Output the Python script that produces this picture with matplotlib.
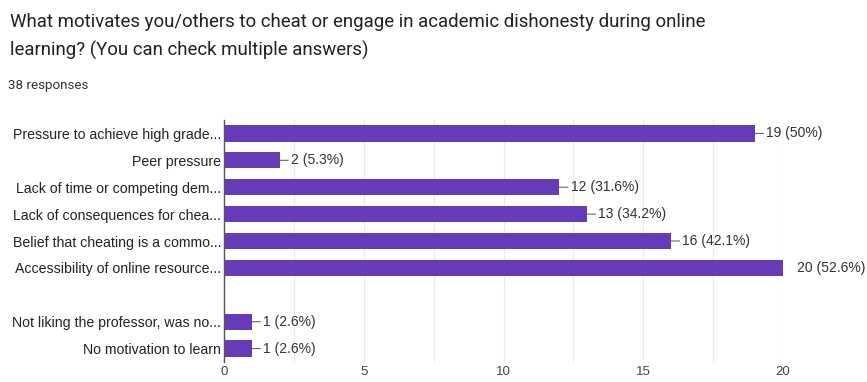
import numpy as np
import matplotlib.pyplot as plt
from matplotlib.ticker import MultipleLocator

# ── Data ───────────────────────────────────────────────────────────────────
labels = [
    "Pressure to achieve high grade...",
    "Peer pressure",
    "Lack of time or competing dem...",
    "Lack of consequences for chea...",
    "Belief that cheating is a commo...",
    "Accessibility of online resource...",
    "",
    "Not liking the professor, was no...",
    "No motivation to learn",
]
counts = [19, 2, 12, 13, 16, 20, 0, 1, 1]
value_labels = ["19 (50%)", "2 (5.3%)", "12 (31.6%)", "13 (34.2%)", "16 (42.1%)",
                "20 (52.6%)", "", "1 (2.6%)", "1 (2.6%)"]
x_ticks = [0, 5, 10, 15, 20]

BAR_COLOR = "#673ab7"
TEXT_COLOR = "#333333"
LABEL_FONT = "Liberation Sans"

fig = plt.figure(figsize=(8.67, 3.82), dpi=100)
fig.patch.set_facecolor("white")

# title + subtitle
fig.text(10 / 867, 1 - 22 / 382,
         "What motivates you/others to cheat or engage in academic dishonesty during online",
         fontsize=13.4, family="Roboto", color="#202124", va="center", ha="left")
fig.text(10 / 867, 1 - 50 / 382,
         "learning? (You can check multiple answers)",
         fontsize=13.4, family="Roboto", color="#202124", va="center", ha="left")
fig.text(8 / 867, 1 - 85 / 382, "38 responses",
         fontsize=9.6, family="Roboto", color="#333333", va="center", ha="left")

ax = fig.add_axes([224 / 867, 1 - 362 / 382, (783 - 224) / 867, (362 - 120) / 382])
y = np.arange(len(labels))
ax.barh(y, counts, height=0.6, color=BAR_COLOR, zorder=3)
ax.set_ylim(len(labels) - 0.5, -0.5)
ax.set_xlim(0, 20)

ax.set_yticks(y)
ax.set_yticklabels(labels, family=LABEL_FONT, fontsize=10.2, color="#222222")
ax.set_xticks(x_ticks)
ax.set_xticklabels([str(t) for t in x_ticks], family=LABEL_FONT,
                   fontsize=9.5, color="#444444")
ax.xaxis.set_minor_locator(MultipleLocator(2.5))
ax.tick_params(axis="both", which="both", length=0)
ax.tick_params(axis="y", pad=2)
ax.tick_params(axis="x", pad=3)

ax.grid(axis="x", which="both", color="#ebebeb", linewidth=0.8, zorder=0)
for side in ["top", "bottom", "right"]:
    ax.spines[side].set_visible(False)
ax.spines["left"].set_color("#555555")
ax.spines["left"].set_linewidth(1.0)
ax.spines["left"].set_zorder(4)

# value labels with short leader lines
for yi, c, lab in zip(y, counts, value_labels):
    if not lab:
        continue
    if c >= 20:
        ax.annotate(lab, xy=(c, yi), xytext=(10, 0), textcoords="offset points",
                    va="center", ha="left", fontsize=10, family=LABEL_FONT,
                    color=TEXT_COLOR, annotation_clip=False)
    else:
        ax.annotate(lab, xy=(c, yi), xytext=(8, 0), textcoords="offset points",
                    va="center", ha="left", fontsize=10, family=LABEL_FONT,
                    color=TEXT_COLOR,
                    arrowprops=dict(arrowstyle="-", color="#666666", lw=0.8,
                                    shrinkA=0, shrinkB=0))

fig.savefig("out.png", dpi=100, facecolor="white")
